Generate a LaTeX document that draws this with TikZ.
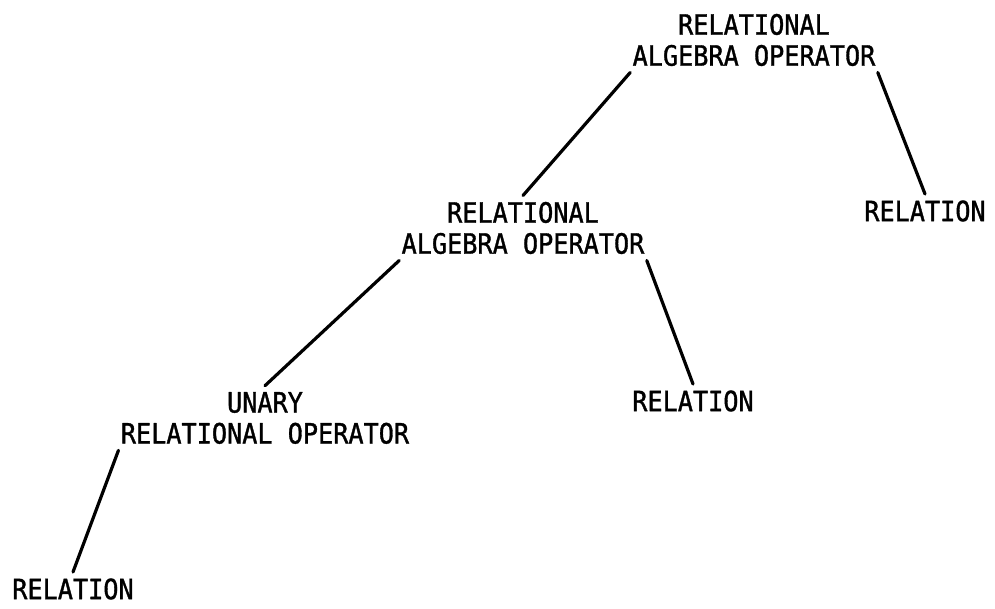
\documentclass[tikz,border=0pt]{standalone}
\usepackage{fontspec}
\newfontfamily\treefont[FakeStretch=0.9,FakeBold=1.2]{DejaVu Sans Mono}
\begin{document}
\begin{tikzpicture}[
    x=0.5pt,y=-0.5pt,
    font=\treefont\fontsize{14}{15.5}\selectfont,
    line cap=round,
    line join=round,
    termnode/.style={align=center, inner xsep=1pt, inner ysep=3pt},
    branch/.style={draw=black, line width=1.6pt}
]

\useasboundingbox (0,0) rectangle (995,609);

\node[termnode] (top)   at (754,40)  {RELATIONAL\\ALGEBRA OPERATOR};
\node[termnode] (mid)   at (523,228) {RELATIONAL\\ALGEBRA OPERATOR};
\node[termnode] (relR)  at (925,211) {RELATION};
\node[termnode] (unary) at (265,418) {UNARY\\RELATIONAL OPERATOR};
\node[termnode] (relM)  at (693,401) {RELATION};
\node[termnode] (relB)  at (73,589)  {RELATION};

\draw[branch] (top.south west) -- (mid.north);
\draw[branch] (top.south east) -- (relR.north);
\draw[branch] (mid.south west) -- (unary.north);
\draw[branch] (mid.south east) -- (relM.north);
\draw[branch] (unary.south west) -- (relB.north);

\end{tikzpicture}
\end{document}
